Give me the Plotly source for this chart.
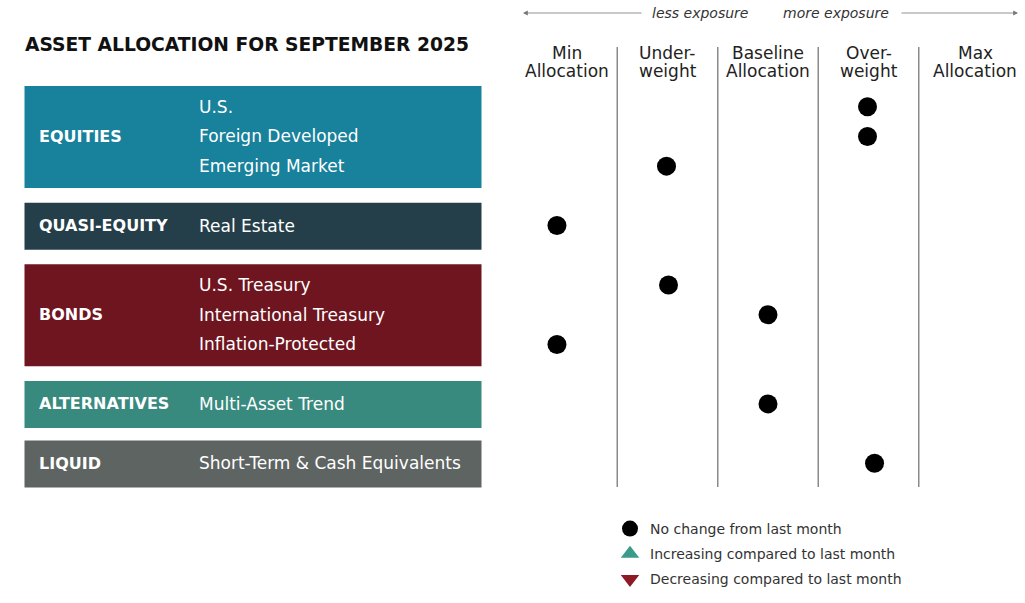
import plotly.graph_objects as go

# ---------------- data ----------------
title = "ASSET ALLOCATION FOR SEPTEMBER 2025"
groups = ["EQUITIES", "QUASI-EQUITY", "BONDS", "ALTERNATIVES", "LIQUID"]
group_assets = [
    ["U.S.", "Foreign Developed", "Emerging Market"],
    ["Real Estate"],
    ["U.S. Treasury", "International Treasury", "Inflation-Protected"],
    ["Multi-Asset Trend"],
    ["Short-Term & Cash Equivalents"],
]
# allocation position: 0=Min, 1=Underweight, 2=Baseline, 3=Overweight, 4=Max
allocation = [
    [2.99, 2.99, 0.99],
    [-0.10],
    [1.01, 2.00, -0.10],
    [2.00],
    [3.06],
]
change = [
    ["none", "none", "none"],
    ["none"],
    ["none", "none", "none"],
    ["none"],
    ["none"],
]
columns = [["Min", "Allocation"], ["Under-", "weight"], ["Baseline", "Allocation"],
           ["Over-", "weight"], ["Max", "Allocation"]]
legend_labels = {"none": "No change from last month",
                 "up": "Increasing compared to last month",
                 "down": "Decreasing compared to last month"}

# ---------------- style ----------------
W, H = 1025, 603
OFF = 0                  # page body margin removed via post_script
FONT = "DejaVu Sans"
group_colors = ["#18819b", "#243f49", "#6e1520", "#388a7e", "#5e6462"]
marker_style = {"none": ("circle", "#000000"),
                "up": ("triangle-up", "#3a9b88"),
                "down": ("triangle-down", "#8d1b25")}
SLOT_PX = 29.72          # pixel height of one row slot
ROW0_PX = 106.7          # screen y of first row
COL0_PX = 567.0          # screen x of "Min" column
COL_PX = 100.5           # pixel width of one column


def X(px):
    return (px - OFF) / W


def Y(py):
    return 1 - (py - OFF) / H


# slot index for every asset row (one empty slot between groups)
slots = []
s = 0
for assets in group_assets:
    slots.append(list(range(s, s + len(assets))))
    s += len(assets) + 1

fig = go.Figure()

# dots by change type
for key in ["none", "up", "down"]:
    xs, ys, names = [], [], []
    for gi, assets in enumerate(group_assets):
        for ai, a in enumerate(assets):
            if change[gi][ai] == key:
                xs.append(allocation[gi][ai])
                ys.append(slots[gi][ai])
                names.append(a)
    sym, col = marker_style[key]
    fig.add_trace(go.Scatter(
        x=xs if xs else [None], y=ys if ys else [None], text=names,
        mode="markers", name=legend_labels[key], legendgroup=key,
        marker=dict(symbol=sym, color=col, size=19, line=dict(width=0)),
        hovertemplate="%{text}<extra></extra>"))

shapes = []
annotations = []

# category boxes and labels
for gi, (g, assets) in enumerate(zip(groups, group_assets)):
    n = len(assets)
    first, last = slots[gi][0], slots[gi][-1]
    center = (first + last) / 2
    half = 0.79 + 0.463 * (n - 1)
    shapes.append(dict(type="rect", xref="paper", yref="y",
                       x0=X(24.5), x1=X(481.5), y0=center - half + 0.02, y1=center + half + 0.02,
                       fillcolor=group_colors[gi], line=dict(width=0), layer="below"))
    annotations.append(dict(xref="paper", yref="y", x=X(37), y=center, text="<b>%s</b>" % g,
                            showarrow=False, xanchor="left", yanchor="middle",
                            font=dict(family=FONT, size=16, color="white")))
    for ai, a in enumerate(assets):
        annotations.append(dict(xref="paper", yref="y", x=X(197), y=slots[gi][ai], text=a,
                                showarrow=False, xanchor="left", yanchor="middle",
                                font=dict(family=FONT, size=17, color="white")))

# column separators
for k in range(len(columns) - 1):
    shapes.append(dict(type="line", xref="x", yref="paper", x0=k + 0.5, x1=k + 0.5,
                       y0=Y(487), y1=Y(47), line=dict(color="#8a8a8a", width=1.5)))

# column headers
for k, (l1, l2) in enumerate(columns):
    xk = k + (0.06 if k == len(columns) - 1 else 0)
    annotations.append(dict(xref="x", yref="paper", x=xk, y=Y(53), text=l1, showarrow=False,
                            xanchor="center", yanchor="middle",
                            font=dict(family=FONT, size=17, color="#222222")))
    annotations.append(dict(xref="x", yref="paper", x=xk, y=Y(71), text=l2, showarrow=False,
                            xanchor="center", yanchor="middle",
                            font=dict(family=FONT, size=17, color="#222222")))

# exposure arrows
annotations.append(dict(xref="paper", yref="paper", x=X(700), y=Y(13), text="<i>less exposure</i>",
                        showarrow=False, xanchor="center", yanchor="middle",
                        font=dict(family=FONT, size=14, color="#333333")))
annotations.append(dict(xref="paper", yref="paper", x=X(836), y=Y(13), text="<i>more exposure</i>",
                        showarrow=False, xanchor="center", yanchor="middle",
                        font=dict(family=FONT, size=14, color="#333333")))
annotations.append(dict(xref="paper", yref="paper", x=X(523), y=Y(13), ax=120, ay=0,
                        axref="pixel", ayref="pixel", text="", showarrow=True,
                        arrowhead=2, arrowsize=1.2, arrowwidth=0.8, arrowcolor="#777777"))
annotations.append(dict(xref="paper", yref="paper", x=X(1018), y=Y(13), ax=-118, ay=0,
                        axref="pixel", ayref="pixel", text="", showarrow=True,
                        arrowhead=2, arrowsize=1.2, arrowwidth=0.8, arrowcolor="#777777"))

# title
annotations.append(dict(xref="paper", yref="paper", x=X(23), y=Y(44), text="<b>%s</b>" % title,
                        showarrow=False, xanchor="left", yanchor="middle",
                        font=dict(family=FONT, size=18.7, color="#111111")))

fig.update_layout(
    width=W, height=H, autosize=False,
    margin=dict(l=0, r=0, t=0, b=0, pad=0),
    paper_bgcolor="white", plot_bgcolor="white",
    xaxis=dict(range=[(OFF - COL0_PX) / COL_PX, (OFF + W - COL0_PX) / COL_PX], visible=False,
               fixedrange=True),
    yaxis=dict(range=[(OFF + H - ROW0_PX) / SLOT_PX, (OFF - ROW0_PX) / SLOT_PX], visible=False,
               fixedrange=True),
    shapes=shapes, annotations=annotations,
    showlegend=True,
    legend=dict(x=X(610), y=Y(513), xanchor="left", yanchor="top", traceorder="grouped",
                tracegroupgap=4, bgcolor="rgba(0,0,0,0)",
                font=dict(family=FONT, size=14, color="#333333")),
)

fig.write_html("out.html", config={"displayModeBar": False},
               post_script="document.body.style.margin='0';document.body.style.overflow='hidden';")
